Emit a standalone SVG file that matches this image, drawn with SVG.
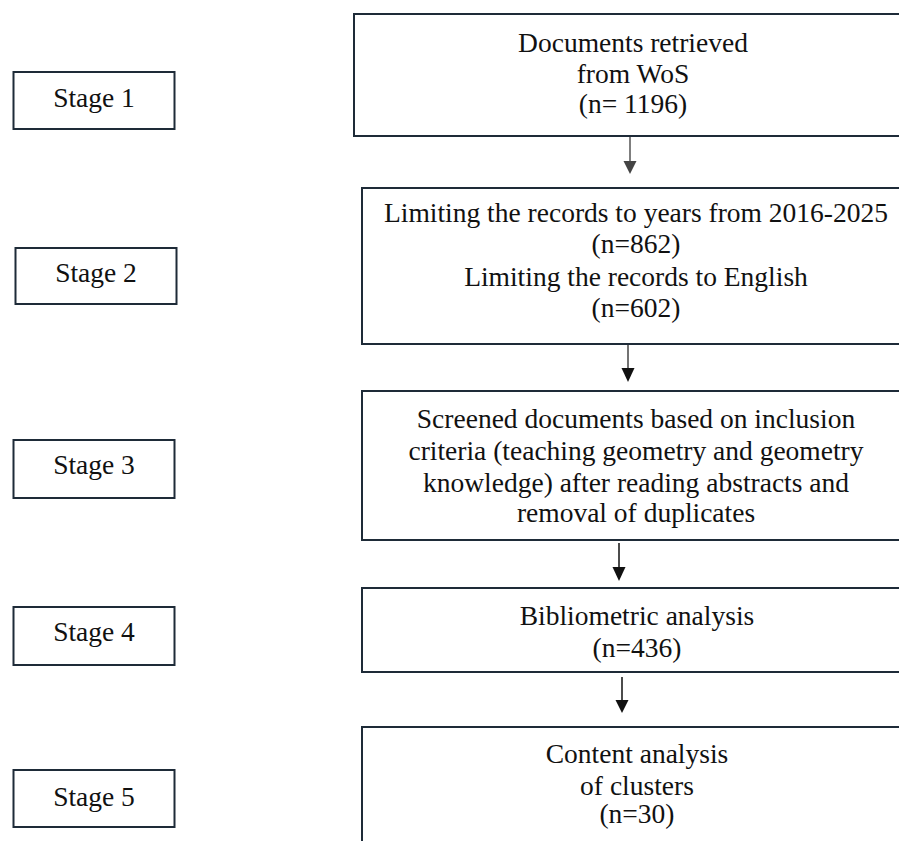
<svg xmlns="http://www.w3.org/2000/svg" width="899" height="841" viewBox="0 0 899 841">
<style>
.box{fill:#ffffff;stroke:#1e2b38;stroke-width:2}
.t{font-family:"Liberation Serif","Times New Roman",serif;font-size:27.5px;fill:#111;text-anchor:middle}
.ln{stroke-width:1.5;fill:none}
</style>
<rect x="0" y="0" width="899" height="841" fill="#ffffff"/>
<g id="stage1"><rect class="box" x="13.5" y="72" width="161" height="57"/><text class="t" x="94" y="107">Stage 1</text></g>
<g id="stage2"><rect class="box" x="15.5" y="248" width="161" height="56"/><text class="t" x="96" y="282">Stage 2</text></g>
<g id="stage3"><rect class="box" x="13.5" y="440" width="161" height="58"/><text class="t" x="94" y="474">Stage 3</text></g>
<g id="stage4"><rect class="box" x="13.5" y="607" width="161" height="58"/><text class="t" x="94" y="641">Stage 4</text></g>
<g id="stage5"><rect class="box" x="13.5" y="770" width="161" height="57"/><text class="t" x="94" y="806">Stage 5</text></g>
<g id="box1"><rect class="box" x="354" y="14" width="560" height="122"/>
<text class="t" x="633" y="52">Documents retrieved</text>
<text class="t" x="633" y="83">from WoS</text>
<text class="t" x="633" y="113">(n= 1196)</text></g>
<g id="box2"><rect class="box" x="362" y="188" width="560" height="156"/>
<text class="t" x="636" y="222">Limiting the records to years from 2016-2025</text>
<text class="t" x="636" y="253">(n=862)</text>
<text class="t" x="636" y="286">Limiting the records to English</text>
<text class="t" x="636" y="317">(n=602)</text></g>
<g id="box3"><rect class="box" x="362" y="391" width="560" height="149"/>
<text class="t" x="636" y="428">Screened documents based on inclusion</text>
<text class="t" x="636" y="460">criteria (teaching geometry and geometry</text>
<text class="t" x="636" y="492">knowledge) after reading abstracts and</text>
<text class="t" x="636" y="522">removal of duplicates</text></g>
<g id="box4"><rect class="box" x="362" y="588" width="560" height="84"/>
<text class="t" x="637" y="625">Bibliometric analysis</text>
<text class="t" x="637" y="657">(n=436)</text></g>
<g id="box5"><rect class="box" x="362" y="727" width="560" height="140"/>
<text class="t" x="637" y="763">Content analysis</text>
<text class="t" x="637" y="795">of clusters</text>
<text class="t" x="637" y="823">(n=30)</text></g>
<g id="connectors">
<line class="ln" x1="630" y1="137" x2="630" y2="162" stroke="#555"/><polygon points="623.5,161 636.5,161 630,174" fill="#444"/>
<line class="ln" x1="628" y1="345" x2="628" y2="369" stroke="#444"/><polygon points="621.5,368 634.5,368 628,382" fill="#111"/>
<line class="ln" x1="619" y1="543" x2="619" y2="568" stroke="#111"/><polygon points="612.5,567 625.5,567 619,581" fill="#111"/>
<line class="ln" x1="622" y1="677" x2="622" y2="701" stroke="#111"/><polygon points="615.5,700 628.5,700 622,713" fill="#111"/>
</g>
</svg>
